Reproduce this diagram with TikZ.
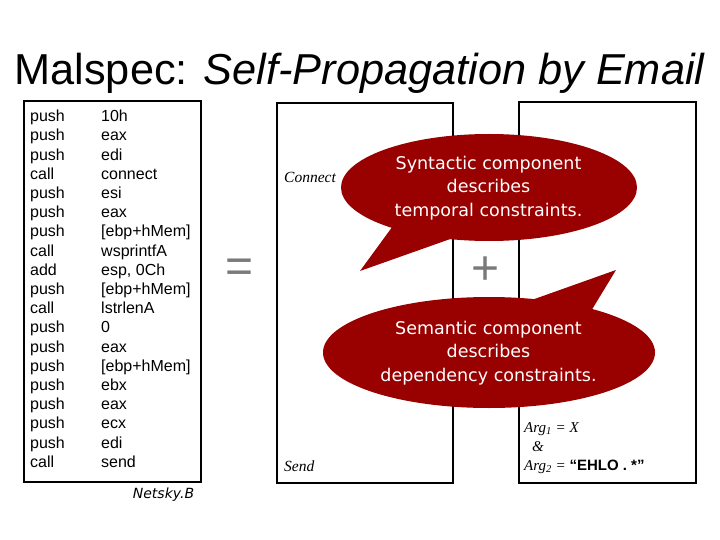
\documentclass[tikz,border=0pt]{standalone}
\usepackage{fontspec}
\newfontfamily\titlefont{Liberation Sans}
\newfontfamily\codefont{Liberation Sans}
\newfontfamily\bubfont{DejaVu Sans}
\newfontfamily\timesfont{Liberation Serif}
\definecolor{bubred}{RGB}{153,0,0}
\definecolor{opgray}{RGB}{122,122,122}
\tikzset{
  panel/.style={draw=black, line width=2.2pt, fill=white},
  bubble/.style={fill=bubred, draw=none},
  code/.style={anchor=mid west, inner sep=0pt, font=\codefont\fontsize{16}{19}\selectfont},
  bubtext/.style={align=center, text=white, inner sep=0pt, font=\bubfont\fontsize{17.5}{23.5}\selectfont},
  evtext/.style={anchor=base west, inner sep=0pt, font=\timesfont\itshape\fontsize{15.5}{18}\selectfont},
  argtext/.style={anchor=base west, inner sep=0pt, font=\timesfont\itshape\fontsize{15}{18}\selectfont},
  optext/.style={inner sep=0pt, text=opgray, font=\titlefont\fontsize{48}{50}\selectfont}
}
\begin{document}
\begin{tikzpicture}[x=1pt, y=-1pt]
\useasboundingbox (0,0) rectangle (720,540);
% title
\node[anchor=base, inner sep=0pt, font=\titlefont\fontsize{43.3}{50}\selectfont] (title) at (359.5,85)
  {Malspec: \itshape Self-Propagation by Email};
% panels
\draw[panel] (24,101) rectangle (201,482);
\draw[panel] (277,103) rectangle (453,483);
\draw[panel] (519,102) rectangle (696,483);
% code listing
\foreach \opc/\opd [count=\i from 0] in {push/10h, push/eax, push/edi, call/connect, push/esi, push/eax,
  push/{[ebp+hMem]}, call/wsprintfA, add/{esp, 0Ch}, push/{[ebp+hMem]}, call/lstrlenA, push/0, push/eax,
  push/{[ebp+hMem]}, push/ebx, push/eax, push/ecx, push/edi, call/send}
{
  \node[code] (op\i) at (30,119.5+19.2*\i) {\opc};
  \node[code] (arg\i) at (101,119.5+19.2*\i) {\opd};
}
\node[anchor=base, inner sep=0pt, font=\bubfont\itshape\fontsize{14}{16}\selectfont] (netsky) at (163.5,498) {Netsky.B};
% operators
\node[optext] (eq) at (240,270.5) {=};
\node[optext] (plus) at (485.5,271) {+};
% middle panel events
\node[evtext] (connect) at (284,183) {Connect};
\node[evtext] (send) at (284,471) {Send};
% right panel constraints
\node[argtext] (arg1) at (524,432) {Arg\textsubscript{1} = X};
\node[argtext] (amp) at (532,451) {\&};
\node[argtext] (arg2) at (524,470) {Arg\textsubscript{2} = {\titlefont\upshape\bfseries “EHLO . *”}};
% bubbles
\fill[bubble] (489,187.5) ellipse [x radius=148, y radius=53.5];
\fill[bubble] (398,219) -- (360,271) -- (470,232) -- cycle;
\fill[bubble] (489,352.5) ellipse [x radius=166, y radius=55.5];
\fill[bubble] (510,307.7) -- (616,270) -- (585,321) -- cycle;
\node[bubtext] (syn) at (488.5,188) {Syntactic component\\describes\\temporal constraints.};
\node[bubtext] (sem) at (488.5,353) {Semantic component\\describes\\dependency constraints.};
\end{tikzpicture}
\end{document}
